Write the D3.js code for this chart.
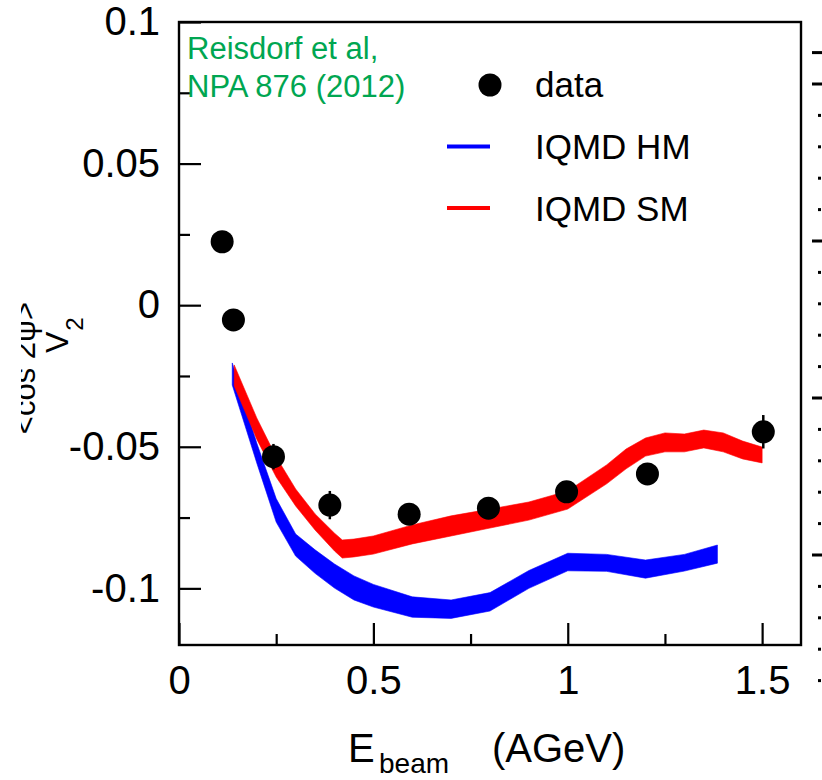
<!DOCTYPE html>
<html>
<head>
<meta charset="utf-8">
<script src="https://cdn.jsdelivr.net/npm/d3@7"></script>
<style>
  html, body { margin: 0; padding: 0; background: #fff; }
  svg { display: block; font-family: "Liberation Sans", Arial, Helvetica, sans-serif; }
</style>
</head>
<body>
<svg id="chart" width="822" height="780"></svg>
<script>
// ---------------- data ----------------
const dataE   = [0.111, 0.140, 0.243, 0.388, 0.592, 0.796, 0.997, 1.205, 1.503];
const dataV2  = [0.0224, -0.0052, -0.0535, -0.0706, -0.0738, -0.0717, -0.0659, -0.0596, -0.0447];
const dataErr = [0.002, 0.002, 0.0045, 0.005, 0.003, 0.003, 0.0035, 0.003, 0.0059];

const hmE    = [0.137, 0.2, 0.25, 0.3, 0.35, 0.4, 0.45, 0.5, 0.6, 0.7, 0.8, 0.9, 1.0, 1.1, 1.2, 1.3, 1.385];
const hmHigh = [-0.0204, -0.0487, -0.0683, -0.0808, -0.0864, -0.0914, -0.0956, -0.0986, -0.1030, -0.1041, -0.1015, -0.0937, -0.0876, -0.0880, -0.0900, -0.0880, -0.0847];
const hmLow  = [-0.0282, -0.0557, -0.0766, -0.0886, -0.0947, -0.0999, -0.1041, -0.1066, -0.1102, -0.1106, -0.1080, -0.1000, -0.0938, -0.0940, -0.0964, -0.0939, -0.0911];

const smE    = [0.142, 0.2, 0.25, 0.3, 0.35, 0.4, 0.42, 0.45, 0.5, 0.6, 0.7, 0.8, 0.9, 1.0, 1.1, 1.15, 1.2, 1.25, 1.3, 1.35, 1.4, 1.45, 1.5];
const smHigh = [-0.0211, -0.0398, -0.0536, -0.0649, -0.0737, -0.0805, -0.0829, -0.0826, -0.0815, -0.0776, -0.0744, -0.0720, -0.0695, -0.0656, -0.0564, -0.0508, -0.0469, -0.0451, -0.0455, -0.0441, -0.0451, -0.0480, -0.0501];
const smLow  = [-0.0285, -0.0473, -0.0607, -0.0709, -0.0794, -0.0868, -0.0893, -0.0889, -0.0879, -0.0843, -0.0815, -0.0787, -0.0759, -0.0720, -0.0631, -0.0578, -0.0533, -0.0518, -0.0518, -0.0504, -0.0518, -0.0543, -0.0557];

const xMajorTicks = [0, 0.5, 1, 1.5];
const xMajorLabels = ["0", "0.5", "1", "1.5"];
const xMinorTicks = [0.25, 0.75, 1.25];
const yMajorTicks = [-0.1, -0.05, 0, 0.05, 0.1];
const yMajorLabels = ["-0.1", "-0.05", "0", "0.05", "0.1"];
const yMinorTicks = [-0.075, -0.025, 0.025, 0.075];

const legendLabels = ["data", "IQMD HM", "IQMD SM"];
const seriesColors = ["#000000", "#0000ff", "#ff0000"];
const refLines = ["Reisdorf et al,", "NPA 876 (2012)"];

// ---------------- layout ----------------
const svg = d3.select("#chart");
svg.append("rect").attr("width", 822).attr("height", 780).attr("fill", "#fff");

const L = 179, R = 801, T = 22, B = 645;
const x = d3.scaleLinear().domain([0, 1.6]).range([L, R]);
const y = d3.scaleLinear().domain([-0.12, 0.1]).range([B, T]);

// bands
function band(E, lo, hi, color) {
  const rows = E.map((e, i) => ({e, lo: lo[i], hi: hi[i]}));
  const area = d3.area().x(d => x(d.e)).y0(d => y(d.lo)).y1(d => y(d.hi)).curve(d3.curveLinear);
  svg.append("path").datum(rows).attr("d", area).attr("fill", color).attr("stroke", color).attr("stroke-width", 0.6);
}
band(hmE, hmLow, hmHigh, seriesColors[1]);
band(smE, smLow, smHigh, seriesColors[2]);

// data points
const pts = dataE.map((e, i) => ({e, v: dataV2[i], err: dataErr[i]}));
svg.append("g").selectAll("line").data(pts).join("line")
  .attr("x1", d => x(d.e)).attr("x2", d => x(d.e))
  .attr("y1", d => y(d.v + d.err)).attr("y2", d => y(d.v - d.err))
  .attr("stroke", "#000").attr("stroke-width", 2.5);
svg.append("g").selectAll("circle").data(pts).join("circle")
  .attr("cx", d => x(d.e)).attr("cy", d => y(d.v)).attr("r", 11.5).attr("fill", "#000");

// axes
const tickFont = 40;
const gy = svg.append("g").attr("transform", `translate(${L},0)`)
  .call(d3.axisLeft(y).tickValues(yMajorTicks).tickFormat((d, i) => yMajorLabels[i]).tickSizeInner(-22).tickSizeOuter(0).tickPadding(19));
const gyMinor = svg.append("g").attr("transform", `translate(${L},0)`)
  .call(d3.axisLeft(y).tickValues(yMinorTicks).tickFormat("").tickSizeInner(-11).tickSizeOuter(0));
const gx = svg.append("g").attr("transform", `translate(0,${B})`)
  .call(d3.axisBottom(x).tickValues(xMajorTicks).tickFormat((d, i) => xMajorLabels[i]).tickSizeInner(-22).tickSizeOuter(0).tickPadding(21));
const gxMinor = svg.append("g").attr("transform", `translate(0,${B})`)
  .call(d3.axisBottom(x).tickValues(xMinorTicks).tickFormat("").tickSizeInner(-11).tickSizeOuter(0));
[gy, gyMinor, gx, gxMinor].forEach(g => {
  g.select(".domain").remove();
  g.selectAll(".tick line").attr("stroke", "#000").attr("stroke-width", 2.2);
  g.selectAll(".tick text").attr("fill", "#000").attr("font-size", tickFont)
    .attr("font-family", "'Liberation Sans', Arial, sans-serif");
});

// frame
svg.append("rect").attr("x", L).attr("y", T).attr("width", R - L).attr("height", B - T)
  .attr("fill", "none").attr("stroke", "#000").attr("stroke-width", 2.4);

// axis titles
svg.append("text").attr("x", 348).attr("y", 762).attr("font-size", 40).text("E");
svg.append("text").attr("x", 379).attr("y", 773).attr("font-size", 28).text("beam");
svg.append("text").attr("x", 492).attr("y", 762).attr("font-size", 40).text("(AGeV)");

// y title: clipped "<cos 2ψ>" and V2
svg.append("clipPath").attr("id", "ylabClip").append("rect")
  .attr("x", 21).attr("y", 250).attr("width", 80).attr("height", 250);
svg.append("g").attr("clip-path", "url(#ylabClip)")
  .append("text").attr("transform", "translate(35,368) rotate(-90)")
  .attr("text-anchor", "middle").attr("font-size", 31).text("<cos 2ψ>");
const v2 = svg.append("text").attr("transform", "translate(68,353) rotate(-90)").attr("font-size", 32);
v2.append("tspan").text("V");
v2.append("tspan").attr("font-size", 24).attr("dx", 1).attr("dy", 15).text("2");

// reference annotation
svg.append("g").selectAll("text").data(refLines).join("text")
  .attr("x", 187).attr("y", (d, i) => 59 + i * 38)
  .attr("font-size", 31).attr("fill", "#00a651").text(d => d);

// legend
const lg = svg.append("g");
lg.append("circle").attr("cx", 490).attr("cy", 85).attr("r", 11.5).attr("fill", seriesColors[0]);
[1, 2].forEach(i => {
  lg.append("line").attr("x1", 447).attr("x2", 490)
    .attr("y1", 85 + i * 61.5).attr("y2", 85 + i * 61.5)
    .attr("stroke", seriesColors[i]).attr("stroke-width", 4);
});
lg.selectAll("text.lab").data(legendLabels).join("text").attr("class", "lab")
  .attr("x", 535).attr("y", (d, i) => 97 + i * 62)
  .attr("font-size", 35).attr("fill", "#000").text(d => d);

// fragment of the neighbouring panel's axis at the right edge
const ghost = d3.scaleLinear().domain([0, 19]).range([84, 680.6]);
const ghostTicks = d3.range(-1, 20);
svg.append("g").selectAll("rect").data(ghostTicks).join("rect")
  .attr("x", d => (d % 5 === 0 || d === -1) ? 812 : 818)
  .attr("y", d => ghost(d) - 1.5)
  .attr("width", d => (d % 5 === 0 || d === -1) ? 12 : 3)
  .attr("height", 3)
  .attr("fill", "#000");
</script>
</body>
</html>
